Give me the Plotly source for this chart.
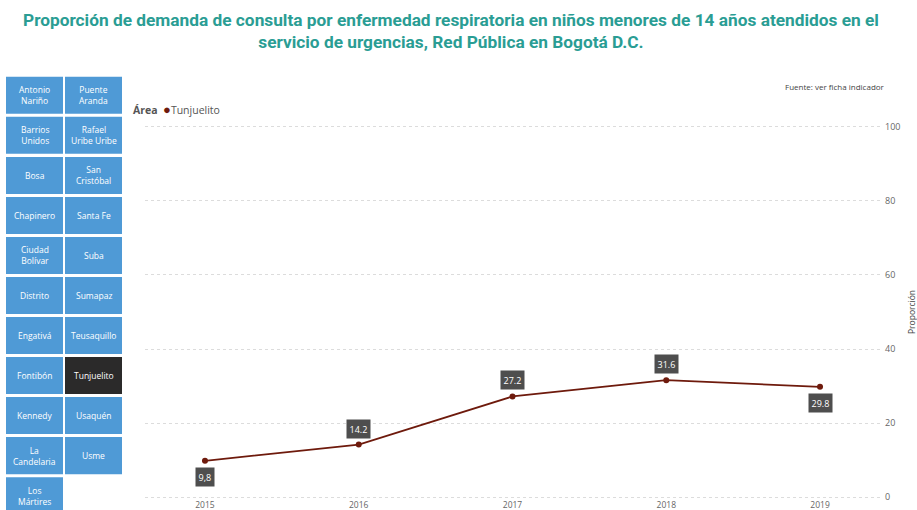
import plotly.graph_objects as go

# ---- data ----
years = [2015, 2016, 2017, 2018, 2019]
values = [9.8, 14.2, 27.2, 31.6, 29.8]
value_labels = ["9,8", "14.2", "27.2", "31.6", "29.8"]
label_above = [False, True, True, True, False]
y_ticks = [0, 20, 40, 60, 80, 100]
areas = ["Antonio<br>Nariño", "Barrios<br>Unidos", "Bosa", "Chapinero", "Ciudad<br>Bolívar",
         "Distrito", "Engativá", "Fontibón", "Kennedy", "La<br>Candelaria", "Los<br>Mártires",
         "Puente<br>Aranda", "Rafael<br>Uribe Uribe", "San<br>Cristóbal", "Santa Fe", "Suba",
         "Sumapaz", "Teusaquillo", "Tunjuelito", "Usaquén", "Usme"]
selected = "Tunjuelito"

W, H = 917, 510
PAD = 0.5  # small axis padding so the 0 and 100 gridlines are drawn
L, R = 145, 880
T, B = 127 - PAD * 3.7, 497 + PAD * 3.7
LINE = "#6e1a0c"

def px(x):
    return (x - L) / (R - L)

def py(y):
    return (B - y) / (B - T)

fig = go.Figure()
fig.add_trace(go.Scatter(
    x=years, y=values, mode="lines+markers",
    line=dict(color=LINE, width=1.8),
    marker=dict(color=LINE, size=6),
    showlegend=False, hoverinfo="x+y"))

ann = []
shapes = []
# data labels
for xv, yv, lab, up in zip(years, values, value_labels, label_above):
    ann.append(dict(x=xv, y=yv, xref="x", yref="y", text=lab, showarrow=False,
                    yshift=16 if up else -16, bgcolor="#4e4e4e", borderpad=2.5,
                    font=dict(family="Open Sans", size=9, color="white")))

# area buttons
rows = 11
for i, name in enumerate(areas):
    col, row = divmod(i, rows)
    x0 = 6 if col == 0 else 65
    x1 = 63 if col == 0 else 122
    y0 = 77 + row * 40
    y1 = y0 + 37
    sel = name == selected
    shapes.append(dict(type="rect", xref="paper", yref="paper",
                       x0=px(x0), x1=px(x1), y0=py(y1), y1=py(y0),
                       fillcolor="#2b2a2a" if sel else "#4f9ad6", line=dict(width=0),
                       layer="above"))
    ann.append(dict(x=px((x0 + x1) / 2), y=py((y0 + y1) / 2), xref="paper", yref="paper",
                    text=name, showarrow=False, xanchor="center", yanchor="middle",
                    font=dict(family="Open Sans", size=8.5, color="white")))

# legend
ann.append(dict(x=px(131), y=py(109), xref="paper", yref="paper", xanchor="left", yanchor="middle",
                text="<b>Área</b>  <span style='color:%s;font-size:13px'>●</span>Tunjuelito" % LINE,
                showarrow=False, font=dict(family="Open Sans", size=10.5, color="#555555")))
# source
ann.append(dict(x=px(887), y=py(87), xref="paper", yref="paper", xanchor="right", yanchor="middle",
                text="Fuente: ver ficha indicador", showarrow=False,
                font=dict(family="Open Sans", size=8, color="#444444")))
# y title
ann.append(dict(x=px(911), y=py(312), xref="paper", yref="paper", xanchor="center", yanchor="middle",
                text="Proporción", textangle=-90, showarrow=False,
                font=dict(family="Open Sans", size=8.5, color="#444444")))
# title
ann.append(dict(x=px(451), y=py(31), xref="paper", yref="paper", xanchor="center", yanchor="middle",
                text="Proporción de demanda de consulta por enfermedad respiratoria en niños menores de 14 años atendidos en el<br>servicio de urgencias, Red Pública en Bogotá D.C.",
                showarrow=False, align="center",
                font=dict(family="Roboto", size=17.3, color="#2a9d94", weight="bold")))

fig.update_layout(
    template="none",
    width=W, height=H,
    margin=dict(l=L, r=W - R, t=T, b=H - B, autoexpand=False),
    paper_bgcolor="white", plot_bgcolor="white",
    annotations=ann, shapes=shapes,
    xaxis=dict(range=[2014.61, 2019.39], tickvals=years, ticktext=[str(y) for y in years],
               showgrid=False, zeroline=False, showline=False, automargin=False,
               tickfont=dict(family="Open Sans", size=8.5, color="#666666"), ticks="",
               ticklabelstandoff=-1),
    yaxis=dict(range=[-PAD, 100 + PAD], tickvals=y_ticks, side="right", showgrid=True,
               gridcolor="#dcdcdc", griddash="dot", gridwidth=1, zeroline=False,
               showline=False, automargin=False, ticks="",
               tickfont=dict(family="Open Sans", size=9, color="#666666"),
               ticklabelstandoff=4),
)
fig.write_html("out.html", config={"displayModeBar": False},
               post_script="document.body.style.margin='0';")
